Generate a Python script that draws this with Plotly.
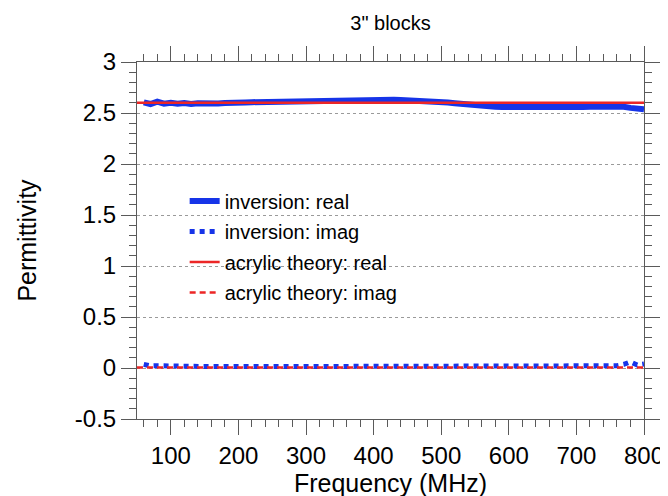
import plotly.graph_objects as go

# ---- data ----
freq_inv = [60, 70, 80, 90, 100, 110, 120, 130, 140, 150, 160, 170, 180, 190, 200,
            210, 220, 230, 240, 250, 260, 270, 280, 290, 300, 310, 320, 330, 340, 350,
            360, 370, 380, 390, 400, 410, 420, 430, 440, 450, 460, 470, 480, 490, 500,
            510, 520, 530, 540, 550, 560, 570, 580, 590, 600, 610, 620, 630, 640, 650,
            660, 670, 680, 690, 700, 710, 720, 730, 740, 750, 760, 770, 780, 790, 800]
inv_real = [2.605, 2.588, 2.612, 2.592, 2.600, 2.590, 2.598, 2.589, 2.596, 2.591,
            2.597, 2.593, 2.598, 2.596, 2.601, 2.603, 2.606, 2.607, 2.610, 2.612,
            2.614, 2.616, 2.619, 2.621, 2.624, 2.626, 2.628, 2.630, 2.632, 2.633,
            2.634, 2.635, 2.634, 2.634, 2.633, 2.632, 2.631, 2.629, 2.627, 2.625,
            2.622, 2.619, 2.616, 2.613, 2.609, 2.603, 2.596, 2.588, 2.580, 2.573,
            2.568, 2.564, 2.561, 2.559, 2.558, 2.557, 2.556, 2.556, 2.555, 2.556,
            2.556, 2.557, 2.557, 2.558, 2.558, 2.559, 2.561, 2.563, 2.566, 2.569,
            2.570, 2.562, 2.550, 2.541, 2.536]
inv_imag = [0.035, 0.020, 0.022, 0.018, 0.020, 0.017, 0.018, 0.016, 0.017, 0.016,
            0.016, 0.015, 0.016, 0.015, 0.015, 0.015, 0.014, 0.015, 0.014, 0.014,
            0.014, 0.014, 0.013, 0.014, 0.013, 0.013, 0.013, 0.013, 0.013, 0.013,
            0.013, 0.013, 0.013, 0.013, 0.013, 0.013, 0.013, 0.013, 0.013, 0.013,
            0.012, 0.013, 0.012, 0.013, 0.012, 0.012, 0.012, 0.012, 0.012, 0.012,
            0.012, 0.012, 0.011, 0.012, 0.011, 0.012, 0.011, 0.012, 0.011, 0.012,
            0.012, 0.012, 0.012, 0.012, 0.012, 0.012, 0.013, 0.013, 0.014, 0.016,
            0.022, 0.035, 0.060, 0.030, 0.040]

freq_theory = [50, 800]
theory_real = [2.6, 2.6]
theory_imag = [0.005, 0.005]

x_range = [50, 800]
y_range = [-0.5, 3]
x_ticks = [100, 200, 300, 400, 500, 600, 700, 800]
y_ticks = [-0.5, 0, 0.5, 1, 1.5, 2, 2.5, 3]
y_tick_text = ["-0.5", "0", "0.5", "1", "1.5", "2", "2.5", "3"]

BLUE = "rgb(22,52,232)"
RED = "rgb(236,38,38)"
AX = "#5a5a5a"
FONT = "Liberation Sans, Arial, Helvetica, sans-serif"

fig = go.Figure()
fig.add_trace(go.Scatter(x=freq_inv, y=inv_real, mode="lines", name="inversion: real",
                         legendgroup="a", line=dict(color=BLUE, width=6)))
fig.add_trace(go.Scatter(x=freq_inv, y=inv_imag, mode="lines", name="inversion: imag",
                         legendgroup="b", line=dict(color=BLUE, width=5, dash="5px,5px")))
fig.add_trace(go.Scatter(x=freq_theory, y=theory_real, mode="lines", name="acrylic theory: real",
                         legendgroup="c", line=dict(color=RED, width=2.5)))
fig.add_trace(go.Scatter(x=freq_theory, y=theory_imag, mode="lines", name="acrylic theory: imag",
                         legendgroup="d", line=dict(color=RED, width=2.5, dash="6px,4px")))

axis_common = dict(
    showline=True, linecolor=AX, linewidth=1, mirror="ticks",
    ticks="outside", ticklen=15, tickwidth=1, tickcolor=AX,
    tickfont=dict(size=24, color="black", family=FONT),
    zeroline=False,
)

fig.update_xaxes(
    range=x_range, tickvals=x_ticks, showgrid=False,
    minor=dict(ticks="outside", ticklen=7, tickcolor=AX, dtick=20, tick0=0, showgrid=False),
    title=dict(text="Frequency (MHz)", font=dict(size=25, color="black", family=FONT), standoff=6),
    **axis_common,
)
fig.update_yaxes(
    range=y_range, tickvals=y_ticks, ticktext=y_tick_text,
    showgrid=True, gridcolor="#9a9a9a", gridwidth=1, griddash="dot",
    minor=dict(ticks="outside", ticklen=7, tickcolor=AX, dtick=0.1, tick0=0, showgrid=False),
    title=dict(text="Permittivity", font=dict(size=25, color="black", family=FONT), standoff=31),
    **axis_common,
)

fig.update_layout(
    width=668, height=496,
    margin=dict(l=129, r=23, t=54, b=83),
    paper_bgcolor="white", plot_bgcolor="white",
    font=dict(family=FONT, color="black"),
    title=dict(text='3" blocks', font=dict(size=20, color="black", family=FONT),
               x=0.5, xref="paper", xanchor="center", y=1 - 15 / 496, yanchor="middle"),
    showlegend=True,
    legend=dict(x=0.094, y=0.665, xanchor="left", yanchor="top",
                bgcolor="rgba(0,0,0,0)", borderwidth=0, tracegroupgap=1.5,
                font=dict(size=20, color="black", family=FONT)),
)

fig.write_html("out.html")
